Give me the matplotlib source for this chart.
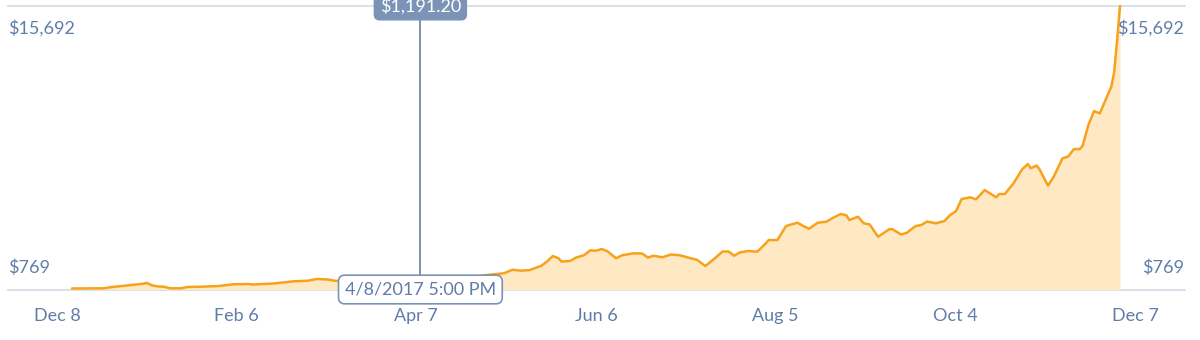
import matplotlib
matplotlib.use("Agg")
import matplotlib.pyplot as plt
import matplotlib.transforms as mtransforms
import numpy as np

# ---- data ----
days = [0, 11, 14, 19, 24, 26, 28, 30, 32, 34, 38, 40, 45, 51, 56, 61, 63, 70, 77, 82,
        85, 89, 91, 97, 105, 112, 121, 130, 137, 142, 145, 150, 153, 156, 159, 163, 165,
        167, 169, 170, 173, 175, 178, 180, 182, 184, 186, 189, 191, 195, 198, 200, 202,
        205, 208, 211, 215, 217, 220, 223, 226, 228, 230, 232, 235, 238, 241, 242, 245,
        248, 250, 252, 254, 256, 259, 262, 264, 267, 269, 270, 273, 275, 277, 280, 284,
        285, 288, 290, 293, 295, 297, 300, 303, 305, 307, 309, 312, 314, 317, 321, 322,
        324, 327, 330, 332, 333, 335, 336, 339, 341, 344, 346, 348, 350, 351, 353, 355,
        357, 360, 361, 362, 363, 364]
prices = [769, 780, 848, 927, 1007, 1059, 927, 875, 864, 780, 780, 848, 864, 901, 991,
          1007, 980, 1033, 1149, 1181, 1271, 1244, 1181, 1139, 940, 1080, 1191, 1230,
          1330, 1440, 1498, 1572, 1762, 1709, 1746, 1968, 2195, 2485, 2364, 2195, 2221,
          2395, 2538, 2786, 2765, 2855, 2733, 2364, 2522, 2628, 2617, 2406, 2501, 2416,
          2564, 2527, 2364, 2290, 1957, 2327, 2723, 2723, 2501, 2680, 2749, 2712, 3156,
          3330, 3330, 4069, 4159, 4243, 4069, 3926, 4243, 4296, 4476, 4703, 4634, 4386,
          4560, 4212, 4159, 3504, 3911, 3895, 3620, 3715, 4069, 4122, 4307, 4212, 4333,
          4650, 4845, 5495, 5584, 5479, 5970, 5584, 5759, 5759, 6324, 7063, 7343, 7116,
          7263, 7079, 6207, 6672, 7644, 7739, 8135, 8135, 8293, 9402, 10141, 10020,
          11091, 11435, 12216, 13890, 15692]
x_tick_labels = ["Dec 8", "Feb 6", "Apr 7", "Jun 6", "Aug 5", "Oct 4", "Dec 7"]
y_labels = ["$769", "$15,692"]
y_values = [769, 15692]
tooltip_day = 121
tooltip_price = "$1,191.20"
tooltip_date = "4/8/2017 5:00 PM"

# ---- style ----
LINE = "#f7a21b"
FILL = "#fee9c4"
TEXT = "#5f7da8"
GRID = "#d6dee9"
TIP = "#7b93b7"
FONT = "Lato"
FS = 13

W, H = 1200, 340
fig = plt.figure(figsize=(W / 100, H / 100), dpi=100)
fig.patch.set_facecolor("white")

ax_left, ax_right = 72, 1120      # px
ax_top, ax_bottom = 6, 289.5      # px from top
ax = fig.add_axes([ax_left / W, 1 - ax_bottom / H,
                   (ax_right - ax_left) / W, (ax_bottom - ax_top) / H])
ax.set_axis_off()

lo, hi = y_values
ax.set_xlim(days[0], days[-1])
ax.set_ylim(lo - (hi - lo) / 282.5, hi)

ax.fill_between(days, prices, ax.get_ylim()[0], color=FILL, lw=0, zorder=1)
ax.plot(days, prices, color=LINE, lw=1.8, solid_joinstyle="round",
        solid_capstyle="round", zorder=3, clip_on=False)

# horizontal gridlines extending across the figure
bt = mtransforms.blended_transform_factory(fig.transFigure, ax.transAxes)
for yy in (0, 1):
    ax.plot([8 / W, 1185 / W], [yy, yy], transform=bt, color=GRID, lw=1.3,
            zorder=0.5, clip_on=False)

def fy(px):
    return 1 - px / H

# y labels (both sides)
for lab, ypx in zip(y_labels, [268, 28]):
    fig.text(8 / W, fy(ypx), lab, ha="left", va="center", color=TEXT,
             fontsize=FS, family=FONT)
    fig.text(1184 / W, fy(ypx), lab, ha="right", va="center", color=TEXT,
             fontsize=FS, family=FONT)

# x labels evenly spread
off = 15 / (ax_right - ax_left)
xt = np.linspace(-off, 1 + off, len(x_tick_labels))
xtr = mtransforms.blended_transform_factory(ax.transAxes, fig.transFigure)
for xx, lab in zip(xt, x_tick_labels):
    ax.text(xx, fy(316), lab, transform=xtr, ha="center", va="center",
            color=TEXT, fontsize=FS, family=FONT, clip_on=False)

# tooltip crosshair
ax.plot([tooltip_day, tooltip_day], [0, 1],
        transform=mtransforms.blended_transform_factory(ax.transData, ax.transAxes),
        color="#6f88ad", lw=1.3, zorder=4, clip_on=False)

ax.text(tooltip_day, fy(6), tooltip_price,
        transform=mtransforms.blended_transform_factory(ax.transData, fig.transFigure),
        ha="center", va="center", color="white", fontsize=FS, family=FONT,
        zorder=6, clip_on=False,
        bbox=dict(boxstyle="round,pad=0.3,rounding_size=0.3", fc=TIP, ec=TIP, lw=1))

ax.text(tooltip_day, 0, tooltip_date,
        transform=mtransforms.blended_transform_factory(ax.transData, ax.transAxes),
        ha="center", va="center", color=TEXT, fontsize=FS, family=FONT,
        zorder=6, clip_on=False,
        bbox=dict(boxstyle="round,pad=0.35,rounding_size=0.35", fc="white", ec=TIP, lw=1.2))

fig.savefig("out.png", dpi=100, facecolor="white")
